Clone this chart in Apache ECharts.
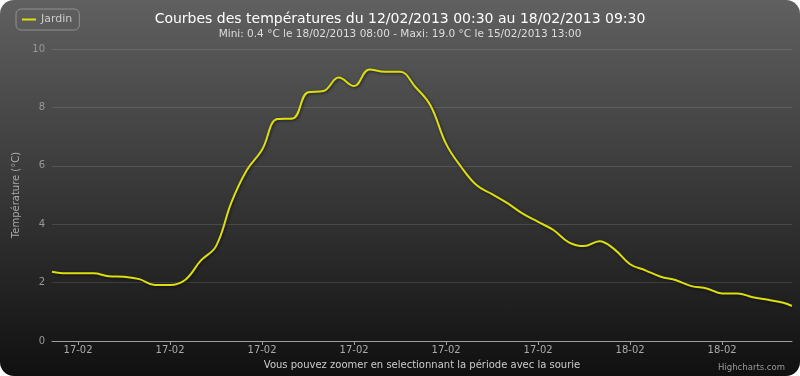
<!DOCTYPE html>
<html>
<head>
<meta charset="utf-8">
<script src="https://cdn.jsdelivr.net/npm/echarts@6/dist/echarts.min.js"></script>
<style>
html, body { margin: 0; padding: 0; background: #fff; }
#tempChart {
    width: 800px; height: 376px; border-radius: 14px;
    background: linear-gradient(rgb(96, 96, 96), rgb(16, 16, 16));
}
</style>
</head>
<body>
<div id="tempChart"></div>
<script>
// heures depuis le 17/02 00:00
const hours = [5.15, 5.5, 6, 6.5, 7, 7.5, 8, 8.5, 9, 9.5, 10, 10.5, 11, 11.5, 12, 12.5,
    13, 13.5, 14, 14.5, 15, 15.5, 16, 16.5, 17, 17.5, 18, 18.5, 19, 19.5, 20, 20.5,
    21, 21.5, 22, 22.5, 23, 23.5, 24, 24.5, 25, 25.5, 26, 26.5, 27, 27.5, 28, 28.5, 29, 29.28];
const temps = [2.37, 2.32, 2.32, 2.32, 2.22, 2.2, 2.12, 1.92, 1.92, 2.1, 2.75, 3.25, 4.75, 5.85, 6.55, 7.6,
    7.62, 8.52, 8.56, 9.02, 8.73, 9.3, 9.22, 9.22, 8.7, 8.05, 6.75, 5.95, 5.33, 5.03, 4.72, 4.36,
    4.08, 3.8, 3.38, 3.25, 3.42, 3.13, 2.63, 2.42, 2.2, 2.08, 1.88, 1.8, 1.63, 1.63, 1.5, 1.41, 1.31, 1.2];
const tickHours = [6, 9, 12, 15, 18, 21, 24, 27];
const tickLabels = ['17-02', '17-02', '17-02', '17-02', '17-02', '17-02', '18-02', '18-02'];

function initChart() {
    const chartDom = document.getElementById('tempChart');
    const myChart = echarts.init(chartDom, null, { renderer: 'canvas' });
    const font = 'DejaVu Sans';
    myChart.setOption({
        backgroundColor: 'transparent',
        animation: false,
        textStyle: { fontFamily: font },
        title: {
            text: 'Courbes des températures du 12/02/2013 00:30 au 18/02/2013 09:30',
            subtext: 'Mini: 0.4 °C le 18/02/2013 08:00 - Maxi: 19.0 °C le 15/02/2013 13:00',
            left: 'center', top: 7, itemGap: 3,
            textStyle: { color: '#fff', fontSize: 14, fontWeight: 'normal', fontFamily: font },
            subtextStyle: { color: '#ddd', fontSize: 10.5, fontFamily: font }
        },
        legend: {
            left: 16, top: 9, padding: [5, 7, 5, 6],
            borderColor: '#909090', borderWidth: 1, borderRadius: 5,
            itemWidth: 14, itemHeight: 10, itemGap: 4,
            textStyle: { color: '#ccc', fontSize: 11, fontFamily: font },
            data: [{ name: 'Jardin', icon: 'path://M0,4L14,4L14,6L0,6Z' }]
        },
        grid: { left: 52, right: 8, top: 49, bottom: 35 },
        xAxis: {
            type: 'value', min: hours[0], max: hours[hours.length - 1],
            name: 'Vous pouvez zoomer en selectionnant la période avec la sourie',
            nameLocation: 'middle', nameGap: 19,
            nameTextStyle: { color: '#ccc', fontSize: 10, fontFamily: font },
            axisLine: { lineStyle: { color: '#a0a0a0', width: 1 } },
            axisTick: { customValues: tickHours, length: 4, lineStyle: { color: '#a0a0a0' } },
            axisLabel: {
                customValues: tickHours, margin: 4, color: '#aaa', fontSize: 10,
                formatter: v => tickLabels[tickHours.indexOf(v)]
            },
            splitLine: { show: false }
        },
        yAxis: {
            type: 'value', min: 0, max: 10, interval: 2,
            name: 'Température (°C)', nameLocation: 'middle', nameGap: 22,
            nameTextStyle: { color: '#aaa', fontSize: 10, fontFamily: font },
            axisLine: { show: false }, axisTick: { show: false },
            axisLabel: { color: '#999', fontSize: 10, margin: 7 },
            splitLine: { lineStyle: { color: 'rgba(255,255,255,0.12)', width: 1 } }
        },
        series: [{
            name: 'Jardin', type: 'line', smooth: 0.4, showSymbol: false,
            data: hours.map((h, i) => [h, temps[i]]),
            itemStyle: { color: '#DDDF0D' },
            lineStyle: {
                color: '#DDDF0D', width: 2,
                shadowColor: 'rgba(0,0,0,0.6)', shadowBlur: 3, shadowOffsetX: 1, shadowOffsetY: 1
            }
        }],
        graphic: [{
            type: 'text', right: 15, bottom: 4,
            style: { text: 'Highcharts.com', fill: '#999', font: '8.5px ' + font }
        }]
    });
}

document.addEventListener('DOMContentLoaded', initChart);
</script>
</body>
</html>
